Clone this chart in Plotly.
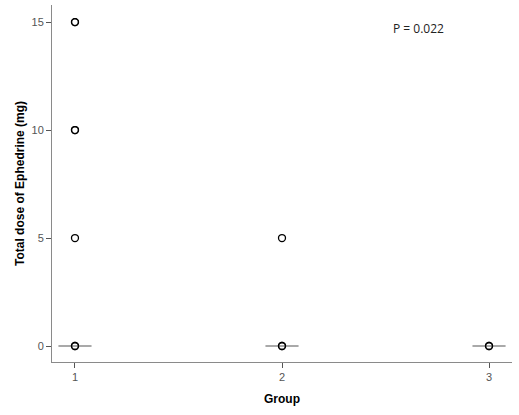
import plotly.graph_objects as go

groups = [1, 2, 3]
medians = [0, 0, 0]
outlier_x = [1, 1, 1, 1, 1, 1, 1, 2, 2, 2, 3, 3]
outlier_y = [15, 15, 10, 10, 5, 0, 0, 5, 0, 0, 0, 0]
x_ticks = [1, 2, 3]
y_ticks = [0, 5, 10, 15]
p_label = "P = 0.022"

half_w = 0.08
fig = go.Figure()
for g, m in zip(groups, medians):
    fig.add_trace(go.Scatter(x=[g - half_w, g + half_w], y=[m, m], mode="lines",
                             line=dict(color="#555555", width=1.2), showlegend=False, hoverinfo="skip"))
fig.add_trace(go.Scatter(x=outlier_x, y=outlier_y, mode="markers",
                         marker=dict(symbol="circle-open", size=7, color="black", line=dict(width=1.3)),
                         showlegend=False))

fig.add_annotation(x=2.66, y=14.7, text=p_label, showarrow=False, xref="x", yref="y",
                   font=dict(family="Open Sans, Liberation Sans, sans-serif", size=12, color="#222222"))

axis_common = dict(showgrid=False, zeroline=False, showline=True, linecolor="#8a8a8a", linewidth=1,
                   ticks="outside", ticklen=5, tickcolor="#555555", tickwidth=1, automargin=False,
                   tickfont=dict(family="Liberation Sans, Arial, sans-serif", size=11, color="#555555"))
fig.update_xaxes(range=[0.889, 3.111], tickvals=x_ticks, ticktext=[str(v) for v in x_ticks],
                 title=dict(text="<b>Group</b>", standoff=12,
                            font=dict(family="Liberation Sans, Arial, sans-serif", size=12, color="black")),
                 **axis_common)
fig.update_yaxes(range=[-0.74, 15.79], tickvals=y_ticks, ticktext=[str(v) for v in y_ticks],
                 title=dict(text="<b>Total dose of Ephedrine (mg)</b>", standoff=4,
                            font=dict(family="Liberation Sans, Arial, sans-serif", size=12, color="black")),
                 **axis_common)
fig.update_layout(width=519, height=415, margin=dict(l=52, r=7, t=5, b=53),
                  plot_bgcolor="white", paper_bgcolor="white")
fig.write_html("out.html", config={"displayModeBar": False},
               post_script="document.body.style.margin='0';document.body.style.overflow='hidden';")
